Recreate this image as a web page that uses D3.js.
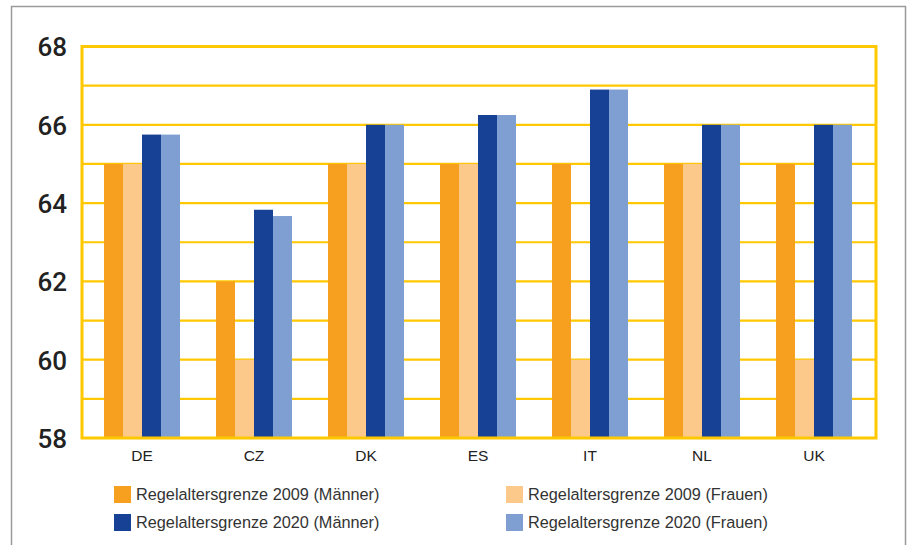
<!DOCTYPE html>
<html>
<head>
<meta charset="utf-8">
<script src="https://cdn.jsdelivr.net/npm/d3@7"></script>
<style>
  html, body { margin: 0; padding: 0; background: #fff; }
  svg { display: block; }
</style>
</head>
<body>
<svg id="chart" width="909" height="545"></svg>
<script>
// Statutory retirement age by country, 2009 vs 2020, men and women
const countries = ["DE", "CZ", "DK", "ES", "IT", "NL", "UK"];
const seriesNames = [
  "Regelaltersgrenze 2009 (Männer)",
  "Regelaltersgrenze 2009 (Frauen)",
  "Regelaltersgrenze 2020 (Männer)",
  "Regelaltersgrenze 2020 (Frauen)"
];
const men2009   = [65, 62, 65, 65, 65, 65, 65];
const women2009 = [65, 60, 65, 65, 60, 65, 60];
const men2020   = [65.75, 63.83, 66, 66.25, 66.9, 66, 66];
const women2020 = [65.75, 63.67, 66, 66.25, 66.9, 66, 66];
const yTicks = [58, 60, 62, 64, 66, 68];
const colors = ["#F79F1F", "#FDC98B", "#164194", "#7F9FD3"];

const seriesValues = [men2009, women2009, men2020, women2020];

const svg = d3.select("#chart");
const grid = "#FFC800";

const plot = { left: 82, right: 876, top: 46.5, bottom: 438 };

// outer frame
svg.append("rect")
  .attr("x", 11.5).attr("y", 6.5)
  .attr("width", 894).attr("height", 560)
  .attr("fill", "none").attr("stroke", "#9a9a9a").attr("stroke-width", 1.5);

const y = d3.scaleLinear().domain([58, 68]).range([plot.bottom, plot.top]);
const x = d3.scaleBand().domain(countries).range([plot.left + 4, plot.right - 6]).padding(0);
const groupWidth = 76;
const xs = d3.scaleBand().domain(d3.range(seriesNames.length)).range([0, groupWidth]).padding(0);

// horizontal grid lines at each whole year
svg.append("g")
  .selectAll("line")
  .data(d3.range(59, 68))
  .join("line")
  .attr("x1", plot.left).attr("x2", plot.right)
  .attr("y1", d => y(d)).attr("y2", d => y(d))
  .attr("stroke", grid).attr("stroke-width", 2.2);

// bars
const groups = svg.append("g")
  .selectAll("g")
  .data(countries)
  .join("g")
  .attr("transform", c => `translate(${x(c) + x.bandwidth() / 2 - groupWidth / 2},0)`);

groups.selectAll("rect")
  .data((c, i) => seriesValues.map((vals, s) => ({ s, v: vals[i] })))
  .join("rect")
  .attr("x", d => xs(d.s))
  .attr("width", xs.bandwidth())
  .attr("y", d => y(d.v))
  .attr("height", d => y(58) - y(d.v))
  .attr("fill", d => colors[d.s]);

// plot frame
svg.append("rect")
  .attr("x", plot.left).attr("y", plot.top)
  .attr("width", plot.right - plot.left).attr("height", plot.bottom - plot.top)
  .attr("fill", "none").attr("stroke", grid).attr("stroke-width", 3);

// y axis labels
const yAxis = d3.axisLeft(y).tickValues(yTicks).tickSize(0).tickPadding(15);
const ya = svg.append("g").attr("transform", `translate(${plot.left},0)`).call(yAxis);
ya.select(".domain").remove();
ya.selectAll("text")
  .attr("font-family", "Roboto, 'Liberation Sans', sans-serif")
  .attr("font-weight", 500)
  .attr("font-size", 26)
  .attr("fill", "#222")
  .attr("dy", "0.36em");

// x axis labels
const xAxis = d3.axisBottom(x).tickSize(0).tickPadding(12);
const xa = svg.append("g").attr("transform", `translate(0,${plot.bottom})`).call(xAxis);
xa.select(".domain").remove();
xa.selectAll("text")
  .attr("font-family", "'Liberation Sans', Arial, sans-serif")
  .attr("font-size", 15.5)
  .attr("fill", "#222");

// legend: two columns, two rows
const legendPos = [
  { x: 114, y: 486 }, { x: 506, y: 486 },
  { x: 114, y: 514 }, { x: 506, y: 514 }
];
const legend = svg.append("g")
  .selectAll("g")
  .data(seriesNames)
  .join("g")
  .attr("transform", (d, i) => `translate(${legendPos[i].x},${legendPos[i].y})`);
legend.append("rect")
  .attr("width", 17).attr("height", 17)
  .attr("fill", (d, i) => colors[i]);
legend.append("text")
  .attr("x", 22).attr("y", 8.5).attr("dy", "0.36em")
  .attr("font-family", "'Liberation Sans', Arial, sans-serif")
  .attr("font-size", 16.3)
  .attr("fill", "#333")
  .text(d => d);
</script>
</body>
</html>
